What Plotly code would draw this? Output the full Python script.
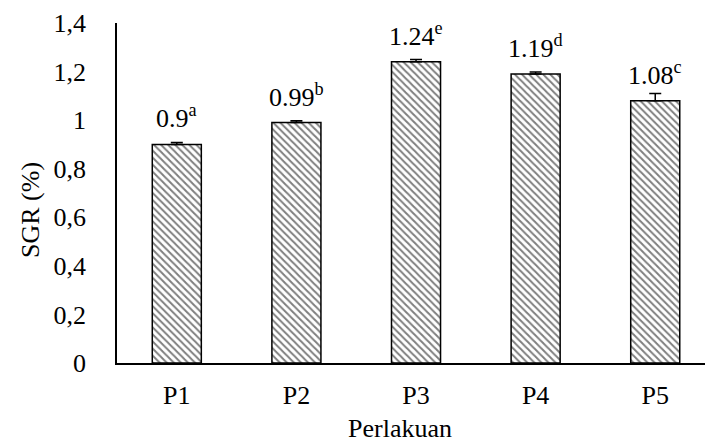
import plotly.graph_objects as go

categories = ["P1", "P2", "P3", "P4", "P5"]
sgr_values = [0.90, 0.99, 1.24, 1.19, 1.08]
sgr_errors = [0.008, 0.008, 0.01, 0.008, 0.03]
label_numbers = ["0.9", "0.99", "1.24", "1.19", "1.08"]
label_letters = ["a", "b", "e", "d", "c"]
y_ticks = [0, 0.2, 0.4, 0.6, 0.8, 1.0, 1.2, 1.4]
y_tick_labels = ["0", "0,2", "0,4", "0,6", "0,8", "1", "1,2", "1,4"]

FONT = "Liberation Serif"
FS = 26

fig = go.Figure()
fig.add_trace(go.Bar(
    x=categories,
    y=sgr_values,
    width=0.41,
    marker=dict(
        color="white",
        line=dict(color="black", width=1.5),
        pattern=dict(shape="\\", fgcolor="black", bgcolor="white", size=5, solidity=0.4),
    ),
    error_y=dict(type="data", symmetric=False, array=sgr_errors, arrayminus=[0] * len(sgr_errors),
                 visible=True, color="black", thickness=1.5, width=6),
    showlegend=False,
))

for c, v, n, l in zip(categories, sgr_values, label_numbers, label_letters):
    fig.add_annotation(
        x=c, y=v, text=f"{n}<sup>{l}</sup>", showarrow=False,
        yanchor="bottom", yshift=9,
        font=dict(family=FONT, size=FS, color="black"),
    )

fig.add_annotation(
    x=(400 - 117) / 588, y=-(428 - 363) / 340, xref="paper", yref="paper",
    text="Perlakuan", showarrow=False, xanchor="center", yanchor="middle",
    font=dict(family=FONT, size=FS, color="black"),
)
fig.add_annotation(
    x=-(117 - 30) / 588, y=(363 - 210) / 340, xref="paper", yref="paper",
    text="SGR (%)", textangle=-90, showarrow=False,
    xanchor="center", yanchor="middle",
    font=dict(family=FONT, size=FS, color="black"),
)

fig.update_layout(
    width=705, height=444,
    margin=dict(l=117, r=0, t=23, b=81, autoexpand=False),
    paper_bgcolor="white", plot_bgcolor="white",
    font=dict(family=FONT, size=FS, color="black"),
)

fig.update_xaxes(
    type="category", range=[-0.5, 4.416],
    showline=True, linecolor="black", linewidth=1.5,
    showgrid=False, ticks="", tickfont=dict(family=FONT, size=FS, color="black"),
    ticklabelstandoff=8,
)
fig.update_yaxes(
    range=[0, 1.4], tickvals=y_ticks, ticktext=y_tick_labels,
    showline=True, linecolor="black", linewidth=1.5,
    showgrid=False, zeroline=False, ticks="",
    tickfont=dict(family=FONT, size=FS, color="black"),
    ticklabelstandoff=24,
)

fig.write_html("out.html", config={"displayModeBar": False},
               post_script="document.body.style.margin='0';document.body.style.overflow='hidden';")
